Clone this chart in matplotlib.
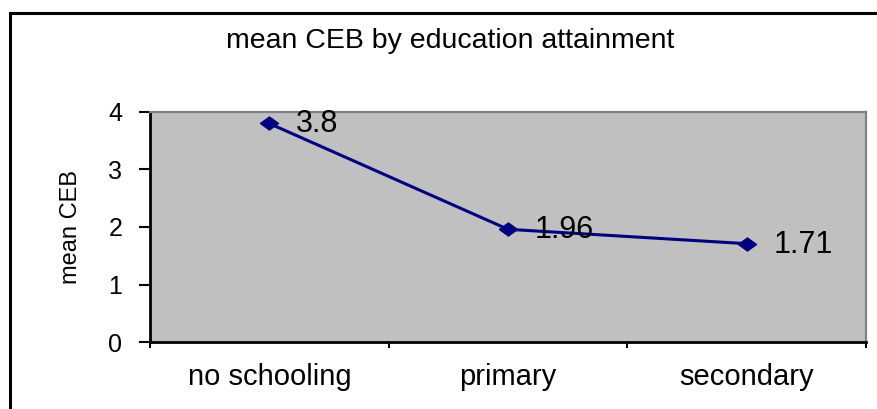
import matplotlib
matplotlib.use('Agg')
import matplotlib.pyplot as plt
from matplotlib.patches import Rectangle

# mean children ever born (CEB) per education level
categories = ['no schooling', 'primary', 'secondary']
mean_ceb = [3.8, 1.96, 1.71]
y_ticks = [0, 1, 2, 3, 4]

plt.rcParams['font.family'] = ['Liberation Sans', 'DejaVu Sans']

W, H = 878, 409
fig = plt.figure(figsize=(W / 100, H / 100), dpi=100)

# chart frame (runs off the right and bottom edge)
frame = Rectangle((10 / W, -0.05), 881 / W, 1.05 - 12.5 / H,
                  transform=fig.transFigure, fill=False,
                  edgecolor='black', lw=2.2, clip_on=False)
fig.patches.append(frame)

fig.text(450 / W, 1 - 48 / H, 'mean CEB by education attainment',
         ha='center', va='baseline', fontsize=20.5)

ax = fig.add_axes([150 / W, 67 / H, 716 / W, 230 / H])
ax.set_facecolor('#c0c0c0')

xpos = [i + 0.5 for i in range(len(categories))]
diamond = [(-1, 0), (0, 0.72), (1, 0), (0, -0.72), (-1, 0)]
ax.plot(xpos, mean_ceb, color='#000080', lw=2.2, marker=diamond, ms=13,
        zorder=3, clip_on=False)

for x, v in zip(xpos, mean_ceb):
    ax.annotate(f'{v:g}', (x, v), xytext=(27, -9), textcoords='offset pixels',
                ha='left', va='baseline', fontsize=22)

ax.set_xlim(0, 3)
ax.set_ylim(0, 4)

# category boundaries get the tick marks, names sit in between
ax.set_xticks(range(len(categories) + 1))
ax.set_xticklabels([])
ax.set_xticks(xpos, minor=True)
ax.set_xticklabels(categories, minor=True)
ax.tick_params(axis='x', which='major', direction='out', length=4.3, width=1.5)
ax.tick_params(axis='x', which='minor', length=0, pad=15, labelsize=21)

ax.set_yticks(y_ticks)
ax.tick_params(axis='y', direction='out', length=8, width=1.5, pad=12,
               labelsize=18)

ax.set_ylabel('mean CEB', fontsize=17)
ax.yaxis.set_label_coords(-0.095, 0.5)

for side in ['left', 'bottom']:
    ax.spines[side].set_color('black')
    ax.spines[side].set_linewidth(2)
for side in ['top', 'right']:
    ax.spines[side].set_color('#808080')
    ax.spines[side].set_linewidth(1.6)

fig.savefig('out.png', dpi=100)
